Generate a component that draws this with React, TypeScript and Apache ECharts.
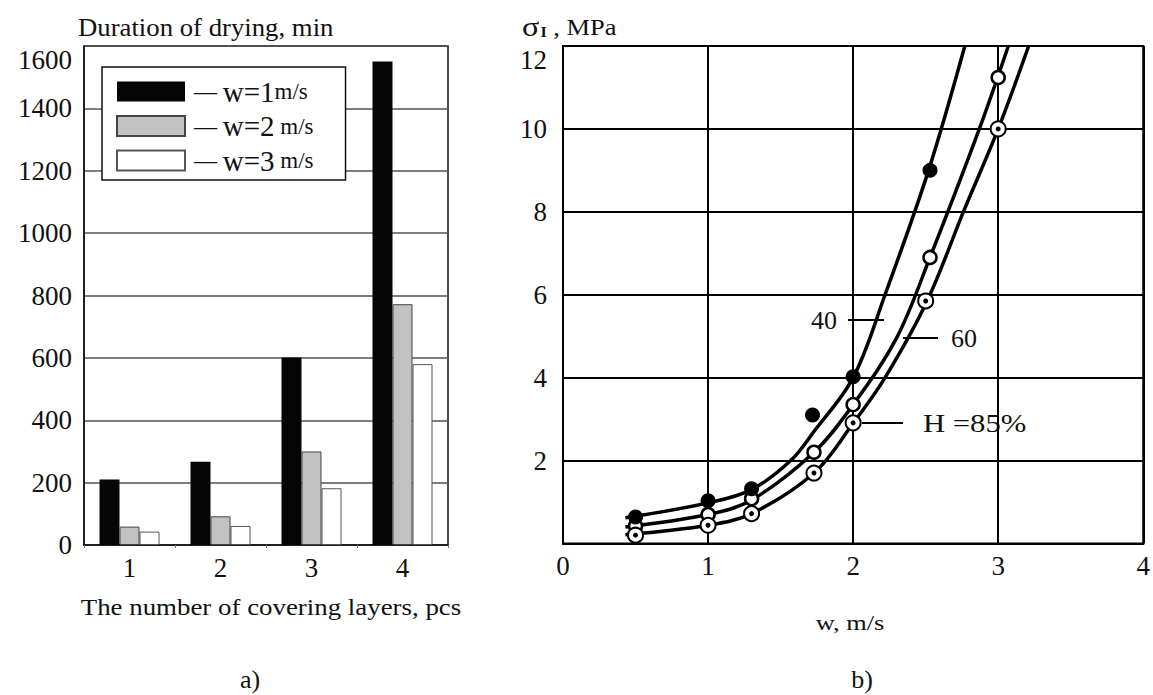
import React, { useEffect, useRef } from "react";
import * as echarts from "echarts";

// ---- Chart a) data ----
const categories = ["1", "2", "3", "4"];
const seriesNames = ["w=1m/s", "w=2 m/s", "w=3 m/s"];
const duration1 = [210, 267, 601, 1550];
const duration2 = [59, 92, 300, 772];
const duration3 = [43, 61, 182, 580];

// ---- Chart b) data: fitted curves ----
const curve40 = [[0.43, 0.62], [1.0, 0.98], [1.3, 1.3], [1.57, 2.0], [1.73, 2.7], [2.0, 4.0], [2.22, 6.0], [2.52, 9.0], [2.77, 12]];
const curve60 = [[0.43, 0.4], [1.0, 0.7], [1.3, 1.05], [1.73, 2.2], [2.0, 3.35], [2.3, 4.96], [2.53, 6.9], [2.87, 10], [3.07, 12]];
const curve85 = [[0.43, 0.21], [1.0, 0.44], [1.3, 0.72], [1.73, 1.7], [2.0, 2.9], [2.22, 4.0], [2.51, 5.85], [2.76, 8.0], [3.0, 10], [3.21, 12]];
// measured points
const points40 = [[0.5, 0.64], [1.0, 1.03], [1.3, 1.32], [1.72, 3.1], [2.0, 4.02], [2.53, 9.0]];
const points60 = [[0.5, 0.42], [1.0, 0.7], [1.3, 1.08], [1.73, 2.2], [2.0, 3.35], [2.53, 6.9], [3.0, 11.24]];
const points85 = [[0.5, 0.2], [1.0, 0.44], [1.3, 0.72], [1.73, 1.7], [2.0, 2.91], [2.5, 5.85], [3.0, 10.0]];

const FONT = "Liberation Serif";

export default function App() {
  const ref = useRef<HTMLDivElement>(null);
  useEffect(() => {
    if (!ref.current) return;
    const chart = echarts.init(ref.current, undefined, { renderer: "svg" });
    const txt = (text: string, x: number, y: number, size: number, align = "center", sx = 1) => ({
      type: "text",
      x,
      y,
      scaleX: sx,
      style: { text, fontSize: size, fontFamily: FONT, fill: "#111", align, verticalAlign: "middle" },
    });
    const ln = (x1: number, y1: number, x2: number, y2: number) => ({
      type: "line",
      shape: { x1, y1, x2, y2 },
      style: { stroke: "#000", lineWidth: 2 },
    });
    const curveSeries = (data: number[][]) => ({
      type: "line",
      xAxisIndex: 1,
      yAxisIndex: 1,
      data,
      smooth: 0.35,
      symbol: "none",
      lineStyle: { color: "#000", width: 3.5 },
      z: 3,
    });
    chart.setOption({
      animation: false,
      backgroundColor: "#fff",
      textStyle: { fontFamily: FONT },
      legend: {
        left: 102,
        top: 67,
        orient: "vertical",
        selectedMode: false,
        data: seriesNames,
        itemWidth: 68,
        itemHeight: 20,
        itemGap: 5.5,
        padding: [10, 32, 5, 14],
        backgroundColor: "#fff",
        borderColor: "#111",
        borderWidth: 1.5,
        icon: "rect",
        formatter: (name: string) => {
          const m = name.match(/^(w=\d)(\s?m\/s)$/);
          return m ? `{d|— }{a|${m[1]}}{b|${m[2]}}` : name;
        },
        textStyle: {
          fontFamily: FONT,
          color: "#111",
          padding: [0, 0, 0, 4],
          rich: {
            d: { fontSize: 23, fontFamily: FONT, color: "#111" },
            a: { fontSize: 29, fontFamily: FONT, color: "#111" },
            b: { fontSize: 23, fontFamily: FONT, color: "#111" },
          },
        },
        z: 10,
      },
      grid: [
        { left: 84, top: 46, width: 364, height: 499, show: true, borderColor: "#111", borderWidth: 1.5, backgroundColor: "transparent" },
        { left: 563, top: 46, width: 596, height: 497.5, show: true, borderColor: "#000", borderWidth: 2, backgroundColor: "transparent" },
      ],
      xAxis: [
        {
          type: "category",
          gridIndex: 0,
          data: categories,
          axisLine: { lineStyle: { color: "#111", width: 1.5 } },
          axisTick: { show: true, length: 3, lineStyle: { color: "#777" } },
          axisLabel: { fontSize: 27, fontFamily: FONT, color: "#111", margin: 9 },
        },
        {
          type: "value",
          gridIndex: 1,
          min: 0,
          max: 4,
          interval: 1,
          axisLine: { show: true, lineStyle: { color: "#000", width: 2 } },
          axisTick: { show: false },
          splitLine: { show: true, lineStyle: { color: "#000", width: 2 } },
          axisLabel: { fontSize: 27, fontFamily: FONT, color: "#111", margin: 9 },
        },
      ],
      yAxis: [
        {
          type: "value",
          gridIndex: 0,
          min: 0,
          max: 1600,
          interval: 200,
          axisLine: { show: true, lineStyle: { color: "#111", width: 1.5 } },
          axisTick: { show: false },
          splitLine: { show: true, lineStyle: { color: "#555", width: 1.5 } },
          axisLabel: {
            fontSize: 27,
            fontFamily: FONT,
            color: "#111",
            margin: 12,
            verticalAlignMaxLabel: "top",
            formatter: (v: number) => String(v),
          },
        },
        {
          type: "value",
          gridIndex: 1,
          min: 0,
          max: 12,
          interval: 2,
          axisLine: { show: true, lineStyle: { color: "#000", width: 2 } },
          axisTick: { show: false },
          splitLine: { show: true, lineStyle: { color: "#000", width: 2 } },
          axisLabel: {
            fontSize: 27,
            fontFamily: FONT,
            color: "#111",
            margin: 16,
            verticalAlignMaxLabel: "top",
            formatter: (v: number) => (v === 0 ? "" : String(v)),
          },
        },
      ],
      series: [
        {
          name: seriesNames[0],
          type: "bar",
          data: duration1,
          barWidth: 20,
          barGap: "0%",
          itemStyle: { color: "#050505" },
        },
        {
          name: seriesNames[1],
          type: "bar",
          data: duration2,
          barWidth: 20,
          barGap: "0%",
          itemStyle: { color: "#c2c2c2", borderColor: "#444", borderWidth: 1 },
        },
        {
          name: seriesNames[2],
          type: "bar",
          data: duration3,
          barWidth: 20,
          barGap: "0%",
          itemStyle: { color: "#fff", borderColor: "#555", borderWidth: 1 },
        },
        curveSeries(curve40),
        curveSeries(curve60),
        curveSeries(curve85),
        {
          type: "scatter",
          xAxisIndex: 1,
          yAxisIndex: 1,
          data: points60,
          symbol: "circle",
          symbolSize: 13,
          itemStyle: { color: "#fff", borderColor: "#000", borderWidth: 2.5, opacity: 1 },
          z: 4,
        },
        {
          type: "scatter",
          xAxisIndex: 1,
          yAxisIndex: 1,
          data: points85,
          symbol: "circle",
          symbolSize: 15,
          itemStyle: { color: "#fff", borderColor: "#000", borderWidth: 2, opacity: 1 },
          z: 5,
        },
        {
          type: "scatter",
          xAxisIndex: 1,
          yAxisIndex: 1,
          data: points85,
          symbol: "circle",
          symbolSize: 5,
          itemStyle: { color: "#000", opacity: 1 },
          z: 6,
        },
        {
          type: "scatter",
          xAxisIndex: 1,
          yAxisIndex: 1,
          data: points40,
          symbol: "circle",
          symbolSize: 15,
          itemStyle: { color: "#000", opacity: 1 },
          z: 7,
        },
      ],
      graphic: [
        txt("Duration of drying, min", 78, 28, 25, "left", 1.07),
        txt("The number of covering layers, pcs", 271, 607, 24, "center", 1.12),
        txt("a)", 250, 679, 26),
        {
          type: "text",
          x: 522,
          y: 27,
          scaleX: 1.15,
          style: {
            text: "{s|σ}{i|I}{m| , MPa}",
            fontFamily: FONT,
            fill: "#111",
            align: "left",
            verticalAlign: "middle",
            rich: {
              s: { fontSize: 28, fontFamily: FONT, fill: "#111" },
              i: { fontSize: 14, fontFamily: FONT, fontWeight: "bold", fill: "#111", padding: [10, 0, 0, 1] },
              m: { fontSize: 23, fontFamily: FONT, fill: "#111" },
            },
          },
        },
        txt("w, m/s", 850, 622, 22, "center", 1.2),
        txt("b)", 862, 679, 26),
        txt("40", 824, 320, 26),
        ln(848, 320, 884, 320),
        txt("60", 964, 338, 26),
        ln(903, 338, 938, 338),
        txt("H =85%", 923, 423, 26, "left", 1.18),
        ln(862, 423, 903, 423),
      ],
    });
    return () => chart.dispose();
  }, []);
  return (
    <div
      ref={ref}
      style={{ position: "absolute", left: 0, top: 0, width: 1153, height: 695, background: "#fff" }}
    />
  );
}
